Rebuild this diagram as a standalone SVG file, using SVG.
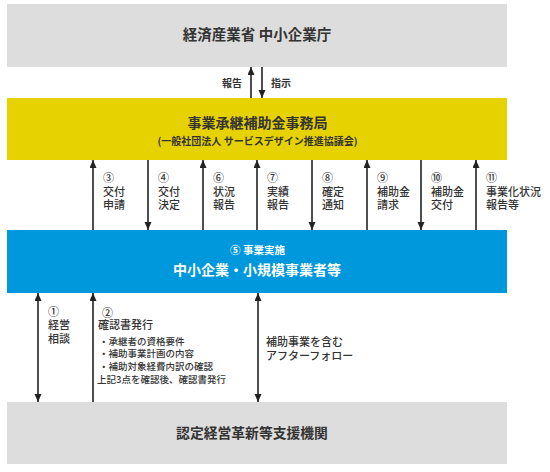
<svg xmlns="http://www.w3.org/2000/svg" width="550" height="472" viewBox="0 0 550 472">
<style>
text{font-family:"Noto Sans CJK JP","Noto Sans",sans-serif;fill:#333}
.h{font-weight:bold}
.w{fill:#fff}
.lb{font-size:11px;font-weight:500}
.sm{font-size:9.5px;font-weight:500}
.c{stroke:#222;stroke-width:1.6;fill:none}
</style>
<defs>
<marker id="ah" markerUnits="userSpaceOnUse" markerWidth="9" markerHeight="8" refX="8" refY="3.5" orient="auto-start-reverse">
<path d="M0,0 L8,3.5 L0,7 z" fill="#222"/>
</marker>
</defs>
<rect width="550" height="472" fill="#fff"/>
<g id="meti">
<rect x="7" y="4" width="500" height="63" fill="#dddddd"/>
<text class="h" x="257" y="40" font-size="14.5" text-anchor="middle">経済産業省 中小企業庁</text>
</g>
<g id="office">
<rect x="7" y="98" width="500" height="62" fill="#e6d200"/>
<text class="h" x="257.5" y="128" font-size="14" text-anchor="middle">事業承継補助金事務局</text>
<text class="h" x="257.5" y="144.5" font-size="10" text-anchor="middle">(一般社団法人 サービスデザイン推進協議会)</text>
</g>
<g id="sme">
<rect x="7" y="230" width="500" height="63" fill="#0098dc"/>
<text class="h w" x="257.5" y="254" font-size="10.5" text-anchor="middle">⑤ 事業実施</text>
<text class="h w" x="257" y="275" font-size="14" text-anchor="middle">中小企業・小規模事業者等</text>
</g>
<g id="support">
<rect x="7" y="402" width="500" height="62" fill="#dddddd"/>
<text class="h" x="252" y="438" font-size="13.8" text-anchor="middle">認定経営革新等支援機関</text>
</g>
<g id="connectors">
<line class="c" x1="251" y1="98" x2="251" y2="67" marker-end="url(#ah)"/>
<line class="c" x1="262" y1="67" x2="262" y2="98" marker-end="url(#ah)"/>
<line class="c" x1="93" y1="230" x2="93" y2="160" marker-end="url(#ah)"/>
<line class="c" x1="148" y1="160" x2="148" y2="230" marker-end="url(#ah)"/>
<line class="c" x1="203" y1="230" x2="203" y2="160" marker-end="url(#ah)"/>
<line class="c" x1="257" y1="230" x2="257" y2="160" marker-end="url(#ah)"/>
<line class="c" x1="312" y1="160" x2="312" y2="230" marker-end="url(#ah)"/>
<line class="c" x1="367" y1="230" x2="367" y2="160" marker-end="url(#ah)"/>
<line class="c" x1="421" y1="160" x2="421" y2="230" marker-end="url(#ah)"/>
<line class="c" x1="476" y1="230" x2="476" y2="160" marker-end="url(#ah)"/>
<line class="c" x1="38" y1="293" x2="38" y2="402" marker-start="url(#ah)" marker-end="url(#ah)"/>
<line class="c" x1="93" y1="402" x2="93" y2="293" marker-end="url(#ah)"/>
<line class="c" x1="258" y1="293" x2="258" y2="402" marker-start="url(#ah)" marker-end="url(#ah)"/>
</g>
<g id="labels">
<text class="h" x="232" y="86.5" font-size="10" text-anchor="middle">報告</text>
<text class="h" x="281" y="86.5" font-size="10" text-anchor="middle">指示</text>
<text class="lb" x="103" y="182">③<tspan x="103" y="196">交付</tspan><tspan x="103" y="208.5">申請</tspan></text>
<text class="lb" x="158" y="182">④<tspan x="158" y="196">交付</tspan><tspan x="158" y="208.5">決定</tspan></text>
<text class="lb" x="213" y="182">⑥<tspan x="213" y="196">状況</tspan><tspan x="213" y="208.5">報告</tspan></text>
<text class="lb" x="267" y="182">⑦<tspan x="267" y="196">実績</tspan><tspan x="267" y="208.5">報告</tspan></text>
<text class="lb" x="322" y="182">⑧<tspan x="322" y="196">確定</tspan><tspan x="322" y="208.5">通知</tspan></text>
<text class="lb" x="377" y="182">⑨<tspan x="377" y="196">補助金</tspan><tspan x="377" y="208.5">請求</tspan></text>
<text class="lb" x="431" y="182">⑩<tspan x="431" y="196">補助金</tspan><tspan x="431" y="208.5">交付</tspan></text>
<text class="lb" x="486" y="182">⑪<tspan x="486" y="196">事業化状況</tspan><tspan x="486" y="208.5">報告等</tspan></text>
<text class="lb" x="48" y="316">①<tspan x="48" y="329">経営</tspan><tspan x="48" y="342.5">相談</tspan></text>
<text class="lb" x="102" y="317">②<tspan x="98" y="329">確認書発行</tspan></text>
<text class="sm" x="99" y="345">・承継者の資格要件</text>
<text class="sm" x="99" y="357">・補助事業計画の内容</text>
<text class="sm" x="99" y="369.5">・補助対象経費内訳の確認</text>
<text class="sm" x="97" y="382.5">上記3点を確認後、確認書発行</text>
<text class="lb" x="266" y="346">補助事業を含む<tspan x="266" y="360">アフターフォロー</tspan></text>
</g>
</svg>
